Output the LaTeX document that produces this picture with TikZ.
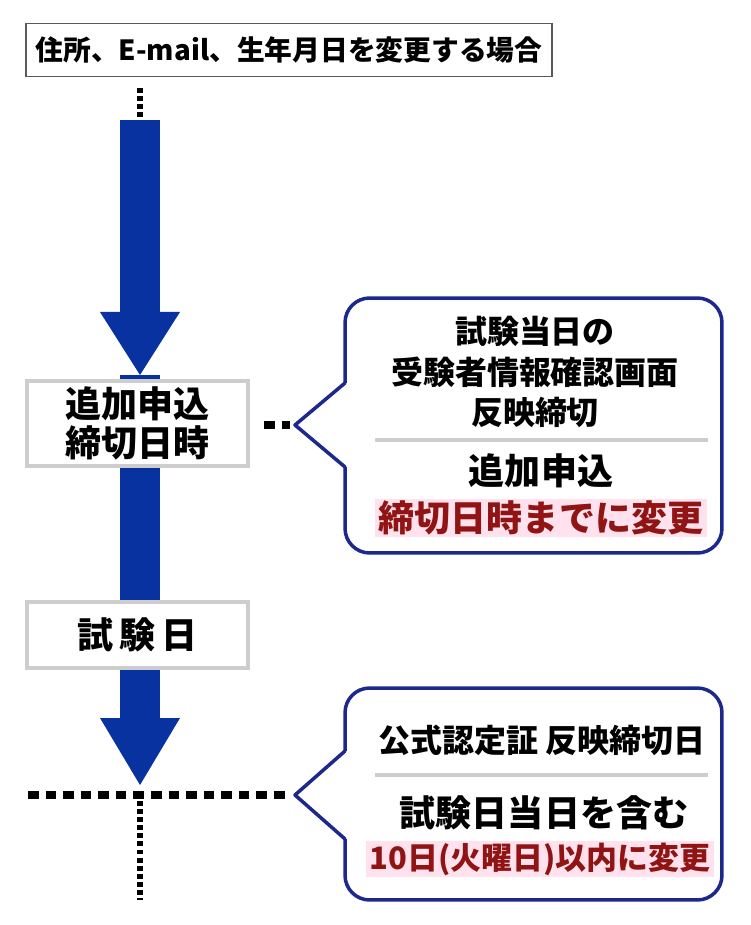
\documentclass[tikz,border=0pt]{standalone}
\usepackage{fontspec}
\setmainfont{Noto Sans CJK JP}
\usetikzlibrary{positioning}

\definecolor{flowblue}{RGB}{8,50,160}
\definecolor{notenavy}{RGB}{28,40,140}
\definecolor{notered}{RGB}{145,20,20}
\definecolor{notepink}{RGB}{255,226,238}
\definecolor{boxgray}{RGB}{205,205,205}

\newcommand\shaftl{120}
\newcommand\shaftr{160}
\newcommand\headl{100}
\newcommand\headr{180}
\newcommand\flowshaft[2]{
  \fill[flowblue] (\shaftl, #1) rectangle (\shaftr, #2) ;
}
\newcommand\flowhead[2]{
  \fill[flowblue] (\headl, #1) -- (\headr, #1) -- (140, #2) -- cycle ;
}
\newcommand\notetip[3]{
  \fill[white] (347, #2 - #3) -- (#1) -- (347, #2 + #3) -- cycle ;
  \draw[noteline] (345, #2 - #3) -- (#1) -- (345, #2 + #3) ;
}

\tikzset{
  titlebox/.style={draw=black!65, line width=0.9pt, fill=white,
    minimum width=10.52cm, minimum height=1.06cm,
    font=\bfseries\fontsize{15.8}{19}\selectfont},
  stepbox/.style={draw=boxgray, line width=2.3pt, fill=white,
    minimum width=4.42cm, align=center,
    font=\bfseries\fontsize{20.5}{22.5}\selectfont},
  noteline/.style={draw=notenavy, line width=2pt, line join=round},
  notebox/.style={noteline, rounded corners=14pt, fill=white},
  notetext/.style={align=center, font=\bfseries\fontsize{18.2}{23.3}\selectfont},
  notebig/.style={font=\bfseries\fontsize{20.5}{23}\selectfont},
  notemark/.style={fill=notepink, text=notered, inner xsep=2pt, inner ysep=1pt,
    font=\bfseries\fontsize{20.5}{23}\selectfont},
  rule/.style={draw=boxgray, line width=1.8pt},
  smalldots/.style={line width=3pt, dash pattern=on 2.8pt off 1.8pt},
  bigdots/.style={line width=5pt, dash pattern=on 6pt off 4pt}
}

\begin{document}
\begin{tikzpicture}[x=0.02cm, y=-0.02cm]
  \useasboundingbox (0,0) rectangle (750,925);

  % flow arrows
  \flowshaft{120}{313}
  \flowhead{312}{375}
  \flowshaft{375}{719}
  \flowhead{718}{785}

  % steps
  \node[titlebox] (title) at (289,50) {住所、E-mail、生年月日を変更する場合};
  \node[stepbox, minimum height=1.7cm] (deadline) at (137.5,423.5) {追加申込\\締切日時};
  \node[stepbox, minimum height=1.32cm] (examday) at (137.5,635) {試\,験\,日};

  \coordinate (top1) at (140,88);
  \coordinate (top2) at (140,118);
  \draw[smalldots] (top1) -- (top2);

  % first note
  \node[notebox, minimum width=7.54cm, minimum height=5.1cm] (note1) at (533.5,425.5) {};
  \coordinate (tip1) at (295,425);
  \notetip{tip1}{425}{42}
  \coordinate (dot1) at (264,425);
  \coordinate (dot2) at (290,425);
  \draw[bigdots] (dot1) -- (dot2);
  \node[notetext] (n1a) at (535,372) {試験当日の\\受験者情報確認画面\\反映締切};
  \draw[rule] (375,440) -- (708,440);
  \node[notebig] (n1b) at (541,471) {追加申込};
  \node[notemark] (n1c) at (541,518) {締切日時までに変更};

  % second note
  \node[notebox, minimum width=7.54cm, minimum height=4.24cm] (note2) at (533.5,794) {};
  \coordinate (tip2) at (295,795);
  \notetip{tip2}{795}{44}
  \coordinate (line1) at (28,795);
  \coordinate (line2) at (290,795);
  \draw[bigdots] (line1) -- (line2);
  \coordinate (down1) at (140,801);
  \coordinate (down2) at (140,900);
  \draw[smalldots] (down1) -- (down2);
  \node[notetext] (n2a) at (542,740) {公式認定証 反映締切日};
  \draw[rule] (375,775) -- (708,775);
  \node[notebig] (n2b) at (544,813) {試験日当日を含む};
  \node[notemark, font=\bfseries\fontsize{17.6}{22}\selectfont] (n2c) at (540,859) {10日(火曜日)以内に変更};
\end{tikzpicture}
\end{document}
